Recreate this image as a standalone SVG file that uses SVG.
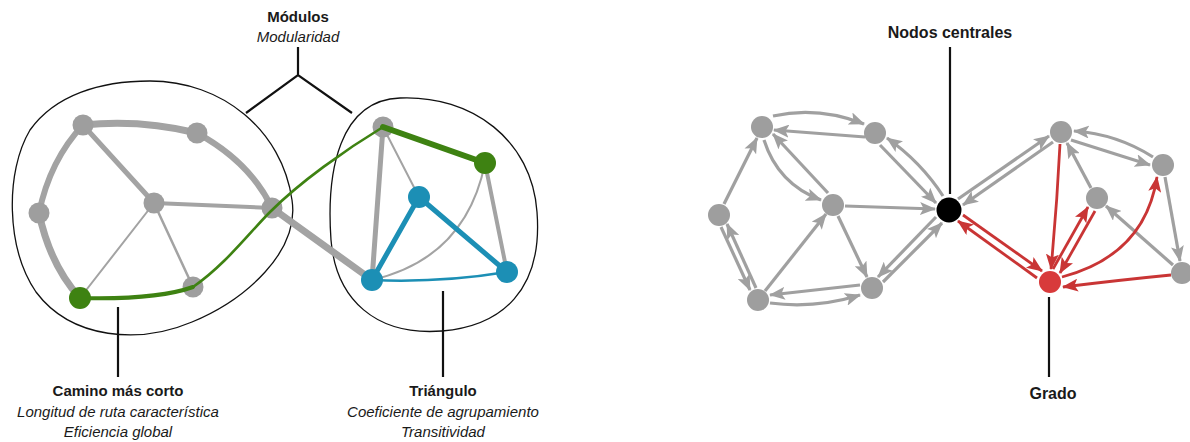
<svg xmlns="http://www.w3.org/2000/svg" width="1190" height="442" viewBox="0 0 1190 442">
<defs>
<style>
.b{font-family:"Liberation Sans",Arial,sans-serif;font-weight:bold;font-size:15px;fill:#1a1a1a;text-anchor:middle}
.b2{font-family:"Liberation Sans",Arial,sans-serif;font-weight:bold;font-size:16px;fill:#1a1a1a;text-anchor:middle}
.i{font-family:"Liberation Sans",Arial,sans-serif;font-style:italic;font-size:15px;fill:#1a1a1a;text-anchor:middle}
.blob{fill:none;stroke:#111;stroke-width:1.3}
.call{stroke:#111;stroke-width:2.2;fill:none}
.ge{stroke:#a3a3a3;fill:none;stroke-linecap:round}
.gn{fill:#9e9e9e}
.ga{stroke:#a0a0a0;stroke-width:3.2;fill:none;marker-end:url(#ag)}
.ra{stroke:#c93535;stroke-width:2.8;fill:none;marker-end:url(#ar)}
</style>
<marker id="ag" viewBox="0 0 16 13" refX="15" refY="6.5" markerWidth="16" markerHeight="13" markerUnits="userSpaceOnUse" orient="auto"><path d="M0,0 L16,6.5 L0,13 L3.5,6.5 Z" fill="#a0a0a0"/></marker>
<marker id="ar" viewBox="0 0 16 13" refX="15" refY="6.5" markerWidth="16" markerHeight="13" markerUnits="userSpaceOnUse" orient="auto"><path d="M0,0 L16,6.5 L0,13 L3.5,6.5 Z" fill="#c93535"/></marker>
</defs>
<rect width="1190" height="442" fill="#fff"/>

<!-- module outlines -->
<g id="modules">
<path class="blob" d="M150 81 C222 81 282 130 292 200 C300 252 245 300 192 322 C140 344 72 340 36 292 C6 248 5 172 30 130 C55 95 100 81 150 81 Z"/>
<path class="blob" d="M400 98 C472 95 532 140 537 212 C543 290 502 326 442 331 C376 336 336 300 331 240 C326 170 340 100 400 98 Z"/>
</g>

<!-- callouts -->
<g id="callouts">
<path class="call" d="M298 47 L298 75 M246 113 L298 75 L352 113"/>
<path class="call" d="M118 307 L118 377"/>
<path class="call" d="M443 291 L443 377"/>
<path class="call" d="M950 47 L950 194"/>
<path class="call" d="M1049 297 L1049 377"/>
</g>

<!-- connectors -->
<g id="connectors">
<path class="ge" stroke-width="7" d="M83 125 Q140 119 197 133"/>
<path class="ge" stroke-width="6" d="M197 133 Q250 162 272 208"/>
<path class="ge" stroke-width="6" d="M83 125 Q50 160 39 213"/>
<path class="ge" stroke-width="7" d="M39 213 Q50 265 80 298"/>
<path class="ge" stroke-width="5" d="M83 125 L154 203"/>
<path class="ge" stroke-width="4" d="M154 203 L272 208"/>
<path class="ge" stroke-width="2" d="M154 203 L80 298"/>
<path class="ge" stroke-width="2.5" d="M154 203 L193 287"/>
<path class="ge" stroke-width="7" d="M272 208 L372 280"/>
<path class="ge" stroke-width="5" d="M383 127 L372 280"/>
<path class="ge" stroke-width="2" d="M383 127 L419 197"/>
<path class="ge" stroke-width="4" d="M485 163 L507 272"/>
<path class="ge" stroke-width="2" d="M485 163 Q466 258 372 280"/>
<path stroke="#1c8fb5" stroke-width="5" fill="none" stroke-linecap="round" d="M419 197 L372 280 M419 197 L507 272"/>
<path stroke="#1c8fb5" stroke-width="2.5" fill="none" d="M372 280 Q440 283 507 272"/>

<path class="ga" d="M773 116 Q818 106 864 124"/>
<path class="ga" d="M865 137 L774 130"/>
<path class="ga" d="M724 204 L757 138"/>
<path class="ga" d="M764 140 Q778 184 821 200"/>
<path class="ga" d="M828 193 L773 134"/>
<path class="ga" d="M880 145 L936 203"/>
<path class="ga" d="M943 196 Q921 162 887 138"/>
<path class="ga" d="M845 206 L935 209"/>
<path class="ga" d="M838 216 L867 277"/>
<path class="ga" d="M765 291 L826 214"/>
<path class="ga" d="M721 227 L750 290"/>
<path class="ga" d="M756 288 L727 224"/>
<path class="ga" d="M860 285 L770 295"/>
<path class="ga" d="M770 303 Q815 309 860 295"/>
<path class="ga" d="M936 217 L878 277"/>
<path class="ga" d="M883 282 L942 223"/>
<path class="ga" d="M958 199 L1049 136"/>
<path class="ga" d="M1053 142 L963 205"/>
<path class="ga" d="M1071 140 L1150 165"/>
<path class="ga" d="M1153 157 Q1117 134 1074 131"/>
<path class="ga" d="M1091 188 L1067 143"/>
<path class="ga" d="M1165 177 L1180 261"/>
<path class="ga" d="M1173 265 L1106 206"/>
<path class="ra" d="M1060 144 Q1057 205 1051 269"/>
<path class="ra" d="M963 215 L1042 271"/>
<path class="ra" d="M1037 278 L958 221"/>
<path class="ra" d="M1053 269 L1088 207"/>
<path class="ra" d="M1095 211 L1060 273"/>
<path class="ra" d="M1062 277 Q1145 255 1157 177"/>
<path class="ra" d="M1171 275 Q1120 280 1063 287"/>
</g>

<!-- left graph nodes -->
<g id="node-A"><circle class="gn" cx="83" cy="125" r="10.5"/></g>
<g id="node-B"><circle class="gn" cx="197" cy="133" r="10.5"/></g>
<g id="node-C"><circle class="gn" cx="39" cy="213" r="10.5"/></g>
<g id="node-D"><circle class="gn" cx="154" cy="203" r="10.5"/></g>
<g id="node-E"><circle class="gn" cx="272" cy="208" r="10.5"/></g>
<g id="node-F"><circle class="gn" cx="193" cy="287" r="10.5"/></g>
<g id="node-T"><circle class="gn" cx="383" cy="127" r="10.5"/></g>

<!-- shortest path -->
<g id="shortest-path">
<path stroke="#3e8212" stroke-width="4" fill="none" stroke-linecap="round" d="M80 298 C120 299 165 297 193 287"/>
<path stroke="#3e8212" stroke-width="2.6" fill="none" d="M193 287 C225 265 250 232 270 212 C300 182 345 150 383 127"/>
<path stroke="#3e8212" stroke-width="6" fill="none" stroke-linecap="round" d="M383 127 L485 163"/>
</g>

<g id="node-G"><circle fill="#3e8212" cx="80" cy="298" r="11"/></g>
<g id="node-GR"><circle fill="#3e8212" cx="485" cy="163" r="11"/></g>
<g id="node-BT"><circle fill="#1c8fb5" cx="419" cy="197" r="11"/></g>
<g id="node-BL"><circle fill="#1c8fb5" cx="372" cy="280" r="11"/></g>
<g id="node-BR"><circle fill="#1c8fb5" cx="507" cy="272" r="11"/></g>

<!-- right graph nodes -->
<g id="node-n1"><circle class="gn" cx="762" cy="127" r="11"/></g>
<g id="node-n2"><circle class="gn" cx="875" cy="133" r="11"/></g>
<g id="node-n3"><circle class="gn" cx="719" cy="215" r="11"/></g>
<g id="node-n4"><circle class="gn" cx="833" cy="205" r="11"/></g>
<g id="node-n5"><circle class="gn" cx="758" cy="300" r="11"/></g>
<g id="node-n6"><circle class="gn" cx="872" cy="288" r="11"/></g>
<g id="node-K"><circle fill="#000" cx="949" cy="210" r="12.5"/></g>
<g id="node-r1"><circle class="gn" cx="1061" cy="132" r="11"/></g>
<g id="node-r2"><circle class="gn" cx="1163" cy="165" r="11"/></g>
<g id="node-r3"><circle class="gn" cx="1097" cy="198" r="11"/></g>
<g id="node-r4"><circle class="gn" cx="1182" cy="273" r="11"/></g>
<g id="node-R"><circle fill="#d83a3b" cx="1050" cy="282" r="11"/></g>

<!-- labels -->
<g id="labels">
<text class="b" x="298" y="22">Módulos</text>
<text class="i" x="298" y="42">Modularidad</text>
<text class="b" x="118" y="396">Camino más corto</text>
<text class="i" x="118" y="417">Longitud de ruta característica</text>
<text class="i" x="118" y="437">Eficiencia global</text>
<text class="b" x="443" y="396">Triángulo</text>
<text class="i" x="443" y="417">Coeficiente de agrupamiento</text>
<text class="i" x="443" y="437">Transitividad</text>
<text class="b2" x="950" y="38">Nodos centrales</text>
<text class="b2" x="1053" y="399">Grado</text>
</g>
</svg>
